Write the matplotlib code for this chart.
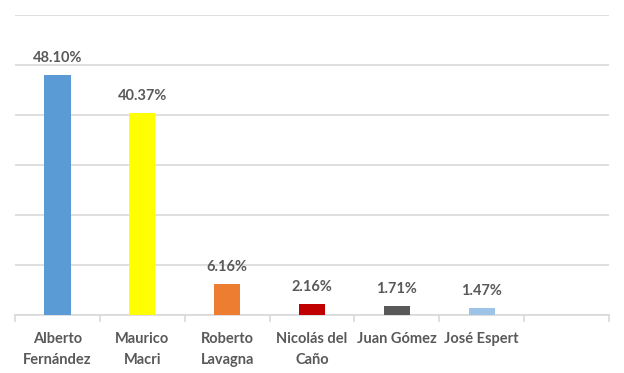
import matplotlib
matplotlib.use("Agg")
import matplotlib.pyplot as plt

categories = ["Alberto\nFernández", "Maurico\nMacri", "Roberto\nLavagna", "Nicolás del\nCaño", "Juan Gómez", "José Espert", ""]
values = [48.10, 40.37, 6.16, 2.16, 1.71, 1.47, None]
colors = ["#5B9BD5", "#FFFF00", "#ED7D31", "#C00000", "#595959", "#9DC3E6", "#FFFFFF"]
yticks = [0, 10, 20, 30, 40, 50, 60]

plt.rcParams['font.family'] = ['Lato', 'DejaVu Sans']
fig = plt.figure(figsize=(6.24, 3.73), dpi=100)
ax = fig.add_axes([15/624, 1-315/373, 594/624, 300/373])

xs = list(range(len(categories)))
for x, v, c in zip(xs, values, colors):
    if v is None:
        continue
    ax.bar(x, v, width=0.31, color=c, zorder=3)
    ax.text(x, v + 2.0, f"{v:.2f}%", ha="center", va="bottom", fontsize=10.5,
            fontweight="bold", color="#595959")

ax.set_xlim(-0.5, len(categories) - 0.5)
ax.set_ylim(0, 60)
ax.set_yticks(yticks)
ax.yaxis.grid(True, color="#D9D9D9", linewidth=1.2, zorder=0)
ax.tick_params(axis="y", length=0, labelleft=False)
ax.set_xticks([x + 0.5 for x in [-1] + xs], minor=True)
ax.set_xticks(xs)
ax.set_xticklabels(categories, fontsize=10.5, fontweight="bold", color="#595959", linespacing=1.7)
ax.tick_params(axis="x", which="major", length=0, pad=12)
ax.tick_params(axis="x", which="minor", length=5, color="#D9D9D9", width=1.2)
for s in ["top", "left", "right"]:
    ax.spines[s].set_visible(False)
ax.spines["bottom"].set_color("#D9D9D9")
ax.spines["bottom"].set_linewidth(1.2)
for lbl in ax.get_xticklabels():
    lbl.set_verticalalignment("top")

fig.savefig("out.png", dpi=100)
